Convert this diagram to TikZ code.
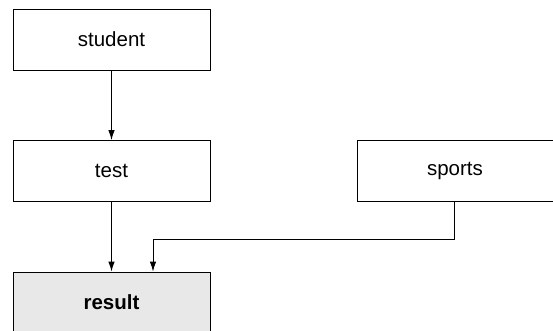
\documentclass[tikz,border=0pt]{standalone}
\usepackage{fontspec}
\setmainfont{Liberation Sans}
\usetikzlibrary{arrows.meta}
\begin{document}
\begin{tikzpicture}[x=1pt,y=-1pt,
  lbl/.style={font=\fontsize{20.5}{24}\selectfont},
  blk/.style={draw=black,line width=0.9pt,minimum width=197pt,minimum height=61pt,
    inner sep=0pt,lbl},
  flow/.style={line width=0.9pt,-{Latex[length=10pt,width=6.5pt]}}]
\useasboundingbox (0,0) rectangle (553,330);
\clip (0,0) rectangle (553,330);
% process boxes
\node[blk] (student) at (111.5,39.5) {student};
\node[blk] (test) at (111.5,171) {test};
\node[blk,minimum width=200pt] (sports) at (457,171) {};
\node[lbl] (sportslbl) at (455,171) {sports};
\node[blk,fill=gray!18,font=\fontsize{20.5}{24}\selectfont\bfseries] (result) at (111.5,302.5) {result};
% connectors
\coordinate (bend) at (454,239);
\draw[flow] (student.south) -- (test.north);
\draw[flow] (test.south) -- (result.north);
\draw[flow] (sports.south -| bend) |- (153,239) -- (result.north -| 153,0);
\end{tikzpicture}
\end{document}
